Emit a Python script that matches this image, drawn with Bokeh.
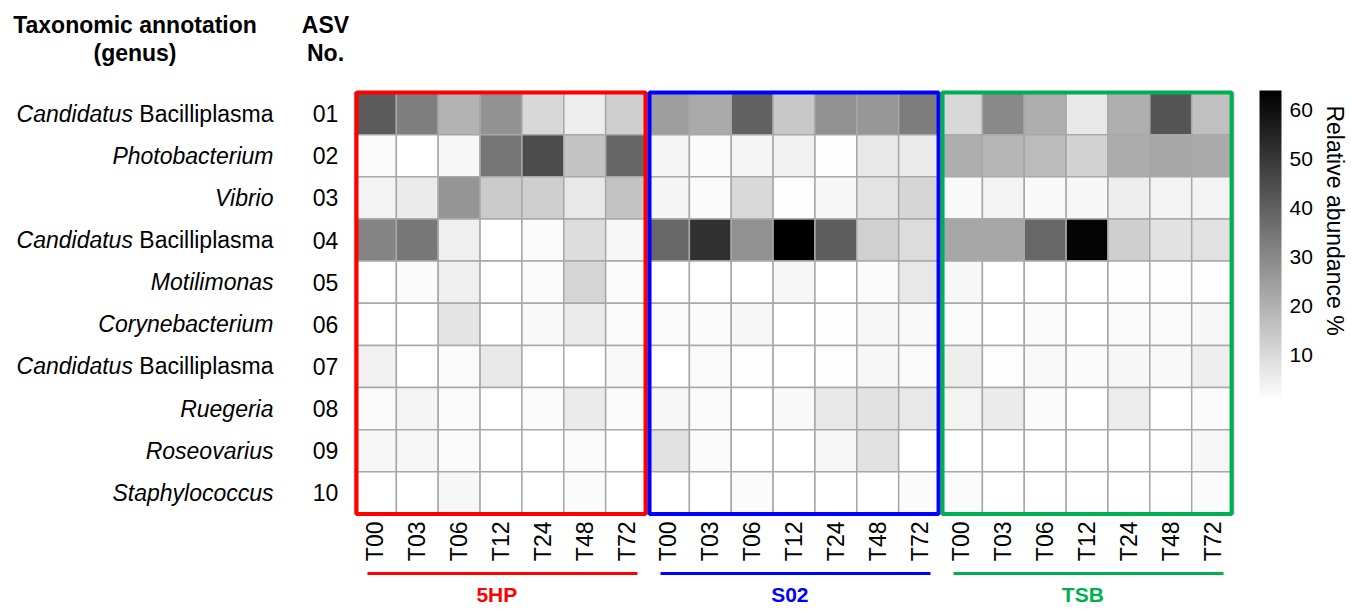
import math
from bokeh.plotting import figure
from bokeh.models import (ColumnDataSource, LinearColorMapper, ColorBar, FixedTicker, Range1d)
from bokeh.core.properties import value
from bokeh.embed import file_html
from bokeh.resources import INLINE

# ---------------- data ----------------
taxa_italic = ["Candidatus", "Photobacterium", "Vibrio", "Candidatus", "Motilimonas",
               "Corynebacterium", "Candidatus", "Ruegeria", "Roseovarius", "Staphylococcus"]
taxa_roman = ["Bacilliplasma", "", "", "Bacilliplasma", "", "", "Bacilliplasma", "", "", ""]
asv_no = ["01", "02", "03", "04", "05", "06", "07", "08", "09", "10"]
timepoints = ["T00", "T03", "T06", "T12", "T24", "T48", "T72"]
groups = ["5HP", "S02", "TSB"]
group_colors = ["#ff0000", "#0000ff", "#00b050"]

val_5HP = [
    [41.4, 32.6, 19.8, 27.9, 10.5, 5.0, 13.0],
    [1.8, 0.8, 2.8, 35.0, 45.4, 15.8, 39.0],
    [4.0, 5.8, 27.0, 13.8, 13.0, 6.5, 15.8],
    [31.4, 34.6, 4.8, 0.8, 1.8, 9.3, 3.0],
    [0.8, 2.0, 4.8, 0.0, 1.8, 11.0, 2.0],
    [0.0, 0.0, 7.5, 1.0, 2.5, 5.8, 2.0],
    [4.3, 0.8, 2.0, 6.5, 0.0, 0.5, 2.5],
    [1.8, 3.5, 1.8, 0.0, 1.8, 5.8, 1.8],
    [3.0, 3.0, 2.0, 1.0, 0.0, 1.8, 0.0],
    [0.0, 0.0, 3.0, 0.0, 0.8, 2.0, 1.0],
]
val_S02 = [
    [24.8, 21.8, 40.0, 14.5, 28.0, 26.6, 32.9],
    [3.3, 2.0, 3.3, 4.3, 1.5, 6.5, 6.0],
    [3.3, 2.0, 10.3, 1.3, 3.0, 7.8, 11.0],
    [38.4, 52.0, 28.0, 64.0, 41.0, 12.5, 9.5],
    [0.8, 0.0, 0.0, 3.0, 0.8, 1.8, 6.5],
    [1.8, 1.8, 3.0, 0.8, 1.5, 3.0, 2.5],
    [0.5, 1.8, 1.5, 1.0, 1.5, 3.0, 1.8],
    [3.0, 1.8, 0.8, 2.5, 6.5, 8.0, 6.5],
    [8.3, 1.8, 0.0, 0.0, 3.0, 8.0, 0.0],
    [0.0, 0.0, 1.8, 0.0, 0.0, 0.8, 1.8],
]
val_TSB = [
    [10.5, 30.0, 21.0, 6.5, 20.6, 43.0, 16.5],
    [21.0, 19.0, 17.8, 12.0, 21.3, 23.0, 21.8],
    [2.5, 3.8, 2.5, 3.0, 5.0, 4.0, 4.0],
    [22.6, 23.0, 38.4, 63.0, 12.8, 8.0, 8.3],
    [3.0, 0.8, 0.8, 0.0, 1.5, 1.5, 1.5],
    [2.0, 0.8, 2.0, 1.0, 1.8, 1.8, 3.0],
    [5.0, 1.3, 2.5, 1.8, 3.0, 2.5, 5.0],
    [4.0, 5.8, 1.8, 0.0, 5.5, 0.8, 1.8],
    [1.0, 0.0, 0.0, 0.0, 0.8, 0.0, 3.0],
    [1.8, 0.0, 1.0, 1.0, 1.0, 1.0, 1.8],
]
colorbar_ticks = [10, 20, 30, 40, 50, 60]

ntp = len(timepoints)
ncol = len(groups) * ntp
nrow = len(asv_no)

# ---------------- build table ----------------
xs, ys, vs = [], [], []
for g, vals in enumerate([val_5HP, val_S02, val_TSB]):
    for r, row in enumerate(vals):
        for t, v in enumerate(row):
            xs.append(g * ntp + t)
            ys.append(nrow - 1 - r)
            vs.append(v)
src = ColumnDataSource(dict(x=xs, y=ys, v=vs))

# page-pixel helpers (layout only)
CW, RH, X0, Y0 = 41.86, 42.15, 354.0, 92.0
W, H = 1350, 608
def px_x(px):
    return -0.5 + (px - X0) / CW
def px_y(py):
    return (nrow - 0.5) - (py - Y0) / RH

FONT = "Liberation Sans"
FS = "23px"

p = figure(width=W, height=H, min_border=0,
           x_range=Range1d(px_x(0), px_x(W)), y_range=Range1d(px_y(H), px_y(0)),
           x_axis_type=None, y_axis_type=None, toolbar_location=None, output_backend="svg")
p.outline_line_color = None
p.grid.visible = False
p.background_fill_color = "white"
p.border_fill_color = "white"

palette = ["#%02x%02x%02x" % (k, k, k) for k in range(255, -1, -1)]
mapper = LinearColorMapper(palette=palette, low=0.8, high=64)

p.rect(x="x", y="y", width=1, height=1, source=src,
       fill_color={"field": "v", "transform": mapper},
       line_color="#a8a8a8", line_width=1.5)

# group boxes
gcent = [g * ntp + (ntp - 1) / 2 for g in range(len(groups))]
p.rect(x=gcent, y=[(nrow - 1) / 2] * len(groups), width=ntp - 4 / CW,
       height=nrow, fill_color=None, line_color=group_colors, line_width=4)

# time point labels
tx = list(range(ncol))
tl = [timepoints[i % ntp] for i in tx]
p.text(x=tx, y=[px_y(521)] * ncol, text=tl, angle=math.pi / 2,
       text_align="right", text_baseline="middle", text_font=value(FONT),
       text_font_size=FS, text_color="black")

# row labels
rows_y = [nrow - 1 - r for r in range(nrow)]
roman_y = [rows_y[r] for r in range(nrow) if taxa_roman[r]]
roman_t = [taxa_roman[r] for r in range(nrow) if taxa_roman[r]]
p.text(x=[px_x(273)] * len(roman_y), y=roman_y, text=roman_t, text_align="right",
       text_baseline="middle", text_font=value(FONT), text_font_size=FS, text_color="black")
shift = 23 * (0.278 + 5.835)
ital_x = [px_x(273 - shift) if taxa_roman[r] else px_x(273) for r in range(nrow)]
p.text(x=ital_x, y=rows_y, text=taxa_italic, text_align="right",
       text_baseline="middle", text_font=value(FONT), text_font_size=FS,
       text_font_style="italic", text_color="black")
p.text(x=[px_x(325)] * nrow, y=rows_y, text=asv_no, text_align="center",
       text_baseline="middle", text_font=value(FONT), text_font_size=FS, text_color="black")

# headers
p.text(x=[px_x(134.5), px_x(134.5), px_x(325), px_x(325)],
       y=[px_y(24), px_y(52), px_y(24), px_y(52)],
       text=["Taxonomic annotation", "(genus)", "ASV", "No."],
       text_align="center", text_baseline="middle", text_font=value(FONT),
       text_font_size=FS, text_font_style="bold", text_color="black")

# group underline + names
lefts = [g * ntp - 0.5 for g in range(len(groups))]
rights = [l + ntp for l in lefts]
p.segment(x0=[l + 0.31 for l in lefts], x1=[r - 0.24 for r in rights],
          y0=[px_y(573)] * len(groups), y1=[px_y(573)] * len(groups),
          line_color=group_colors, line_width=3)
p.text(x=[(l + r) / 2 - 0.1 for l, r in zip(lefts, rights)], y=[px_y(594)] * len(groups),
       text=groups, text_align="center", text_baseline="middle", text_font=value(FONT),
       text_font_size="21px", text_font_style="bold", text_color=group_colors)

# color bar
cb = ColorBar(color_mapper=mapper, ticker=FixedTicker(ticks=colorbar_ticks),
              width=22, height=310, location=(1259, H - 400), padding=0, margin=0,
              major_tick_line_color=None, minor_tick_line_color=None, bar_line_color=None,
              major_label_text_font=FONT, major_label_text_font_size="21px",
              major_label_text_color="black", label_standoff=8,
              background_fill_color=None, border_line_color=None)
p.add_layout(cb, "center")

p.text(x=[px_x(1334)], y=[px_y(220)], text=["Relative abundance %"],
       angle=-math.pi / 2, text_align="center", text_baseline="middle",
       text_font=value(FONT), text_font_size="23px", text_color="black")

open("out.html", "w").write(file_html(p, INLINE))
